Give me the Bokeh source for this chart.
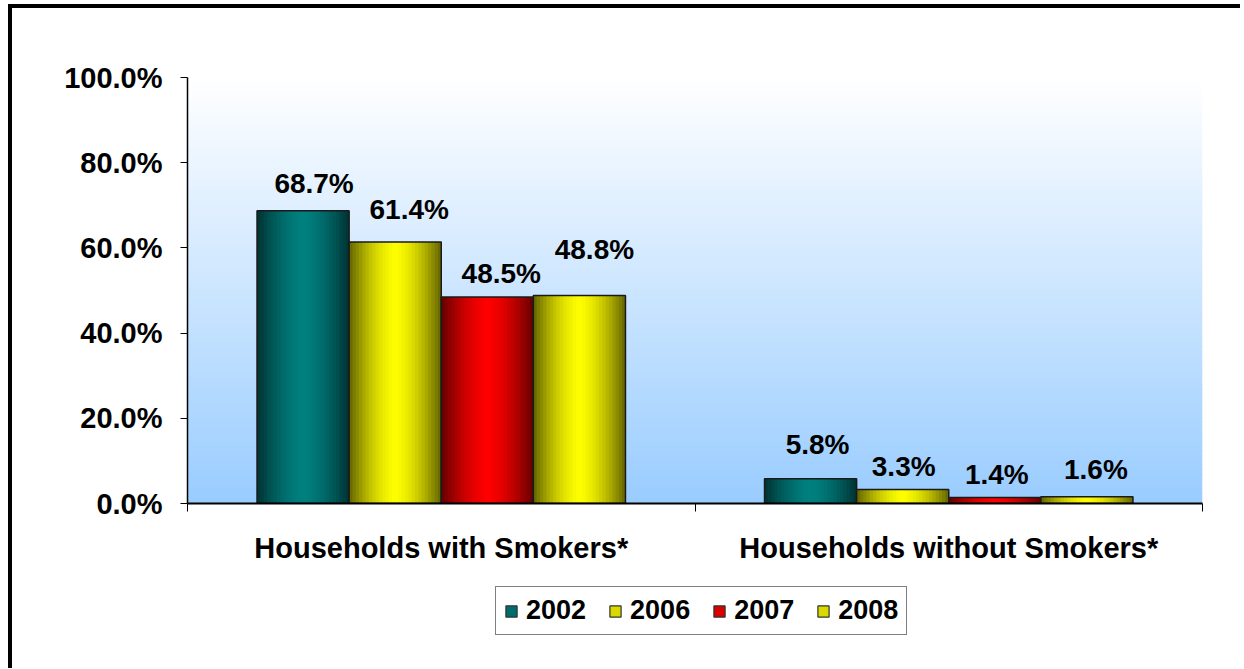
from bokeh.plotting import figure
from bokeh.layouts import column
from bokeh.models import (Range1d, FixedTicker, LabelSet,
                          ColumnDataSource, Legend, LegendItem)
from bokeh.core.properties import value
from bokeh.embed import file_html
from bokeh.resources import INLINE

# ---- data ----
categories = ["Households with Smokers*", "Households without Smokers*"]
years = ["2002", "2006", "2007", "2008"]
v2002 = [68.7, 5.8]
v2006 = [61.4, 3.3]
v2007 = [48.5, 1.4]
v2008 = [48.8, 1.6]
series = [v2002, v2006, v2007, v2008]
y_ticks = [0, 20, 40, 60, 80, 100]

# label nudges (px) as placed in the original chart
lab_dx = [[11, 7], [14, 1], [14, 2], [15, 9]]
lab_dy = [[18, 25], [23, 13], [14, 14], [37, 18]]

# ---- styles ----
base_colors = [(0, 128, 128), (255, 255, 0), (255, 0, 0), (255, 255, 0)]
FONT = "Liberation Sans"
BAR_W = 0.1815
NLAYER = 14


def shade(rgb, f):
    return "#%02x%02x%02x" % tuple(min(255, int(round(c * f))) for c in rgb)


p = figure(width=1228, height=572, output_backend="svg", toolbar_location=None,
           x_range=Range1d(0, 2), y_range=Range1d(0, 100),
           min_border_left=175, min_border_right=38, min_border_top=69,
           min_border_bottom=77)
p.outline_line_color = None
p.xgrid.grid_line_color = None
p.ygrid.grid_line_color = None
p.background_fill_color = "white"
p.border_fill_color = "white"

# background gradient (white -> light blue)
nb = 90
bt = [100.0 * k / nb for k in range(nb)]
tp = [min(100.0, 100.0 * (k + 1) / nb + 0.3) for k in range(nb)]
top_c = (255, 255, 255)
bot_c = (153, 204, 255)
bcols = []
for k in range(nb):
    t = (k + 0.5) / nb  # 0 bottom .. 1 top
    c = tuple(int(round(bot_c[j] + (top_c[j] - bot_c[j]) * t)) for j in range(3))
    bcols.append("#%02x%02x%02x" % c)
p.quad(left=0, right=2, bottom=bt, top=tp, fill_color=bcols, line_color=None)

lab_x, lab_y, lab_t, lab_ox, lab_oy = [], [], [], [], []
for i, vals in enumerate(series):
    centers = [g + 0.5 + (i - 1.5) * BAR_W for g in range(len(categories))]
    # nested bars: dark edges -> bright centre
    for k in range(NLAYER):
        frac = 1.0 - k / NLAYER
        f = 0.42 + 0.58 * (1 - frac ** 1.6)
        p.vbar(x=centers, top=vals, bottom=0, width=BAR_W * frac,
               fill_color=shade(base_colors[i], f), line_color=None)
    p.vbar(x=centers, top=vals, bottom=0, width=BAR_W, fill_color=None,
           line_color="#1a1a1a", line_width=1.5)
    for g, cx in enumerate(centers):
        lab_x.append(cx)
        lab_y.append(vals[g])
        lab_t.append("%.1f%%" % vals[g])
        lab_ox.append(lab_dx[i][g])
        lab_oy.append(lab_dy[i][g])

src = ColumnDataSource(dict(x=lab_x, y=lab_y, t=lab_t, ox=lab_ox, oy=lab_oy))
labels = LabelSet(x="x", y="y", text="t", x_offset="ox", y_offset="oy", source=src,
                  text_align="center", text_baseline="alphabetic",
                  text_font=value(FONT), text_font_style="bold",
                  text_font_size="28px", text_color="black")
p.add_layout(labels)

# y axis
ya = p.yaxis[0]
ya.ticker = FixedTicker(ticks=y_ticks, minor_ticks=[])
ya.major_label_overrides = {v: "%.1f%%" % v for v in y_ticks}
ya.major_tick_out = 7
ya.major_tick_in = 0
ya.major_tick_line_color = "black"
ya.axis_line_color = "black"
ya.axis_line_width = 1.5
ya.major_label_standoff = 18
ya.major_label_text_font = FONT
ya.major_label_text_font_style = "bold"
ya.major_label_text_font_size = "29px"
ya.major_label_text_color = "black"

# x axis
xa = p.xaxis[0]
xa.ticker = FixedTicker(ticks=[0.5, 1.5], minor_ticks=[0, 1, 2])
xa.major_label_overrides = {0.5: categories[0], 1.5: categories[1]}
xa.major_tick_out = 0
xa.major_tick_in = 0
xa.minor_tick_out = 8
xa.minor_tick_in = 0
xa.minor_tick_line_color = "black"
xa.axis_line_color = "black"
xa.axis_line_width = 2
xa.major_label_standoff = 20
xa.major_label_text_font = FONT
xa.major_label_text_font_style = "bold"
xa.major_label_text_font_size = "29px"
xa.major_label_text_color = "black"

# legend strip below the chart
lf = figure(width=1228, height=88, output_backend="svg", toolbar_location=None,
            x_axis_type=None, y_axis_type=None, x_range=Range1d(0, 1),
            y_range=Range1d(0, 1), min_border=0)
lf.outline_line_color = None
lf.xgrid.grid_line_color = None
lf.ygrid.grid_line_color = None
lf.border_fill_color = "white"
lf.background_fill_color = "white"
items = []
for i, yr in enumerate(years):
    key = lf.rect(x=[-5], y=[-5], width=0.01, height=0.01,
                  fill_color=shade(base_colors[i], 0.85),
                  line_color="#333333", line_width=1.2)
    items.append(LegendItem(label=yr, renderers=[key]))
legend = Legend(items=items, orientation="horizontal", location=(308, 33),
                label_text_font=FONT, label_text_font_style="bold",
                label_text_font_size="27px", label_text_color="black",
                glyph_width=14, glyph_height=14, spacing=22, label_standoff=8,
                padding=8, margin=0, border_line_color="black",
                border_line_width=1, background_fill_color="white")
lf.add_layout(legend)

layout = column(p, lf, spacing=0, margin=(4, 0, 0, 8),
                styles={"border-left": "4px solid black",
                        "border-top": "4px solid black"})

open("out.html", "w").write(file_html(layout, INLINE))
